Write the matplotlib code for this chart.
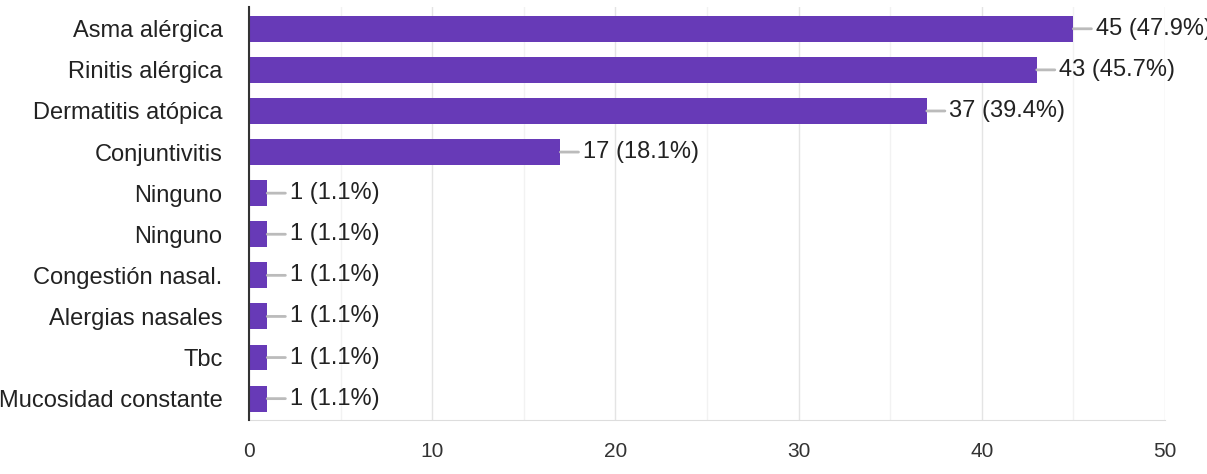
from matplotlib import pyplot as plt
from matplotlib.ticker import MultipleLocator

categories = [
    'Asma alérgica',
    'Rinitis alérgica',
    'Dermatitis atópica',
    'Conjuntivitis',
    'Ninguno',
    'Ninguno',
    'Congestión nasal.',
    'Alergias nasales',
    'Tbc',
    'Mucosidad constante',
]
counts = [45, 43, 37, 17, 1, 1, 1, 1, 1, 1]
percents = [47.9, 45.7, 39.4, 18.1, 1.1, 1.1, 1.1, 1.1, 1.1, 1.1]

bar_color = '#673ab7'
text_color = '#222222'

plt.rcParams['font.family'] = ['Liberation Sans', 'DejaVu Sans']

fig = plt.figure(figsize=(12.07, 4.74), dpi=100)
ax = fig.add_axes([249 / 1207, 1 - 420 / 474, (1165 - 249) / 1207, 413 / 474])

positions = list(range(len(categories)))
ax.barh(positions, counts, height=0.63, color=bar_color, zorder=3)

# value labels joined to the bar end by a short grey leader line
for pos, count, pct in zip(positions, counts, percents):
    ax.annotate(
        f'{count} ({pct}%)',
        xy=(count, pos),
        xytext=(16, 0),
        textcoords='offset points',
        ha='left',
        va='center',
        fontsize=17,
        color=text_color,
        annotation_clip=False,
        arrowprops=dict(arrowstyle='-', color='#bbbbbb', lw=2,
                        shrinkA=1, shrinkB=0),
    )

ax.set_xlim(0, 50)
ax.set_ylim(9.52, -0.53)
ax.set_yticks(positions)
ax.set_yticklabels(categories)
ax.xaxis.set_major_locator(MultipleLocator(10))
ax.xaxis.set_minor_locator(MultipleLocator(5))

ax.grid(axis='x', which='major', color='#e4e4e4', lw=1, zorder=0)
ax.grid(axis='x', which='minor', color='#f2f2f2', lw=1, zorder=0)

ax.tick_params(axis='y', length=0, pad=19, labelsize=17, labelcolor=text_color)
ax.tick_params(axis='x', which='both', length=0, pad=16, labelsize=15,
               labelcolor='#333333')

for side in ['top', 'right']:
    ax.spines[side].set_visible(False)
ax.spines['bottom'].set_color('#dddddd')
ax.spines['left'].set_color('#333333')
ax.spines['left'].set_linewidth(1.5)
ax.spines['left'].set_zorder(4)

fig.savefig('out.png', dpi=100)
